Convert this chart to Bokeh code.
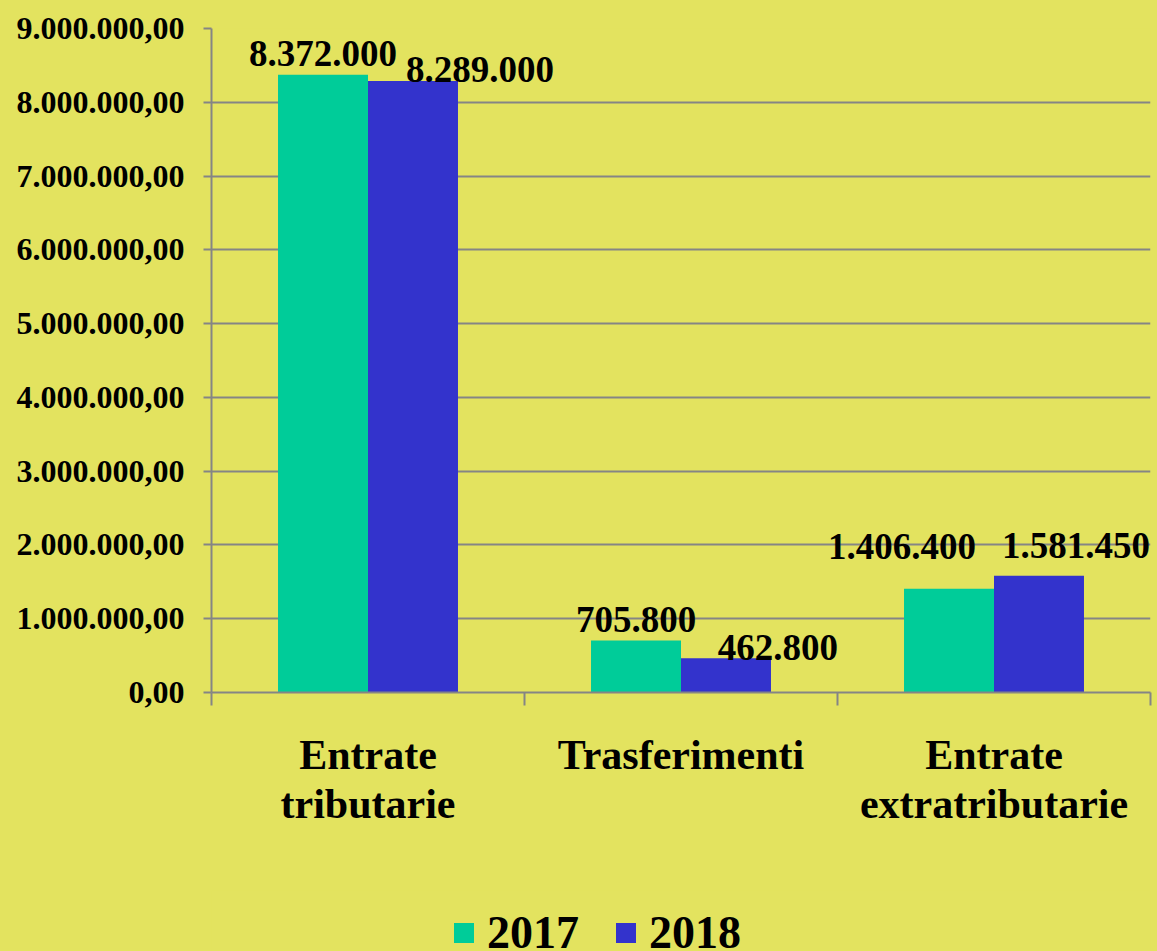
from bokeh.plotting import figure
from bokeh.layouts import column
from bokeh.models import (ColumnDataSource, FixedTicker, CustomJSTickFormatter, LinearAxis,
                          Legend, LegendItem, Range1d)
from bokeh.core.properties import value
from bokeh.embed import file_html
from bokeh.resources import INLINE

categories = ["Entrate\ntributarie", "Trasferimenti", "Entrate\nextratributarie"]
series_names = ["2017", "2018"]
values_2017 = [8372000, 705800, 1406400]
values_2018 = [8289000, 462800, 1581450]
y_ticks = [0, 1000000, 2000000, 3000000, 4000000, 5000000, 6000000, 7000000, 8000000, 9000000]

GREEN = "#00CC99"
BLUE = "#3333CC"
BG = "#e3e35f"
GRID = "#858585"
FONT_NAME = "Liberation Serif"

def fmt(v):
    return f"{v:,}".replace(",", ".")

n = len(categories)
bw = 0.2875
centers = [i + 0.5 for i in range(n)]
x17 = [c - bw / 2 for c in centers]
x18 = [c + bw / 2 for c in centers]

W = 1157
H_MAIN = 890
H_LEG = 61

p = figure(width=W, height=H_MAIN, output_backend="svg", toolbar_location=None,
           x_range=Range1d(0, n), y_range=Range1d(0, 9000000),
           min_border_left=211, min_border_right=7, min_border_top=28,
           min_border_bottom=H_MAIN - 692,
           background_fill_color=BG, border_fill_color=BG, outline_line_color=None,
           x_axis_type=None)

src17 = ColumnDataSource(dict(x=x17, top=values_2017, label=[fmt(v) for v in values_2017],
                              xo=[0, 0, -47], yo=[-21, -21, -42]))
src18 = ColumnDataSource(dict(x=x18, top=values_2018, label=[fmt(v) for v in values_2018],
                              xo=[67, 52, 37], yo=[-11, -11, -30]))

r17 = p.vbar(x="x", top="top", width=bw, source=src17, fill_color=GREEN, line_color=None)
r18 = p.vbar(x="x", top="top", width=bw, source=src18, fill_color=BLUE, line_color=None)

for s in (src17, src18):
    p.text(x="x", y="top", text="label", source=s, x_offset="xo", y_offset="yo",
           text_align="center", text_baseline="alphabetic", text_font=value(FONT_NAME),
           text_font_style="bold", text_font_size="37px", text_color="black")

# y axis
ya = p.yaxis[0]
ya.ticker = FixedTicker(ticks=y_ticks)
ya.formatter = CustomJSTickFormatter(code="""
const s = Math.round(tick).toString().replace(/\\B(?=(\\d{3})+(?!\\d))/g, ".");
return s + ",00";
""")
ya.axis_line_color = GRID
ya.axis_line_width = 2
ya.major_tick_line_color = GRID
ya.major_tick_line_width = 2
ya.major_tick_out = 8
ya.major_tick_in = 0
ya.minor_tick_line_color = None
ya.major_label_text_font = FONT_NAME
ya.major_label_text_font_style = "bold"
ya.major_label_text_font_size = "32px"
ya.major_label_text_color = "black"
ya.major_label_standoff = 19

p.ygrid.ticker = FixedTicker(ticks=y_ticks)
p.ygrid.grid_line_color = GRID
p.ygrid.grid_line_width = 2
p.xgrid.grid_line_color = None

# x axis with category boundary ticks (no labels)
xa1 = LinearAxis(ticker=FixedTicker(ticks=list(range(n + 1))),
                 formatter=CustomJSTickFormatter(code="return ''"))
xa1.axis_line_color = GRID
xa1.axis_line_width = 2
xa1.major_tick_line_color = GRID
xa1.major_tick_line_width = 2
xa1.major_tick_out = 13
xa1.major_tick_in = 0
xa1.minor_tick_line_color = None
xa1.major_label_standoff = 0
p.add_layout(xa1, "below")

# category labels, one axis per text line
line1 = [c.split("\n")[0] for c in categories]
line2 = [c.split("\n")[1] if "\n" in c else "" for c in categories]

def label_axis(labels, standoff):
    ax = LinearAxis(ticker=FixedTicker(ticks=[c for c, l in zip(centers, labels) if l]),
                    major_label_overrides={c: l for c, l in zip(centers, labels) if l})
    ax.axis_line_color = None
    ax.major_tick_line_color = None
    ax.major_tick_out = 0
    ax.major_tick_in = 0
    ax.minor_tick_line_color = None
    ax.major_label_text_font = FONT_NAME
    ax.major_label_text_font_style = "bold"
    ax.major_label_text_font_size = "42px"
    ax.major_label_text_color = "black"
    ax.major_label_standoff = standoff
    return ax

p.add_layout(label_axis(line1, 26), "below")
p.add_layout(label_axis(line2, 0), "below")

# legend strip
p2 = figure(width=W, height=H_LEG, output_backend="svg", toolbar_location=None,
            x_range=Range1d(0, 1), y_range=Range1d(0, 1),
            min_border_left=211, min_border_right=7, min_border_top=0, min_border_bottom=0,
            background_fill_color=BG, border_fill_color=BG,
            outline_line_color=None, x_axis_type=None, y_axis_type=None)
p2.xgrid.grid_line_color = None
p2.ygrid.grid_line_color = None
key = ColumnDataSource(dict(x=[0.0], top=[0.0]))
d17 = p2.vbar(x="x", top="top", width=0.0, source=key, fill_color=GREEN, line_color=None)
d18 = p2.vbar(x="x", top="top", width=0.0, source=key, fill_color=BLUE, line_color=None)

legend = Legend(items=[LegendItem(label=series_names[0], renderers=[d17]),
                       LegendItem(label=series_names[1], renderers=[d18])],
                location=(240, -8), orientation="horizontal",
                background_fill_alpha=0, border_line_color=None,
                label_text_font=FONT_NAME, label_text_font_style="bold", label_text_font_size="46px",
                label_text_color="black",
                glyph_width=25, glyph_height=25, label_standoff=11, spacing=34,
                padding=0, margin=0)
p2.add_layout(legend)

layout = column(p, p2, spacing=0, styles={"background-color": BG})
open("out.html", "w").write(file_html(layout, INLINE))
